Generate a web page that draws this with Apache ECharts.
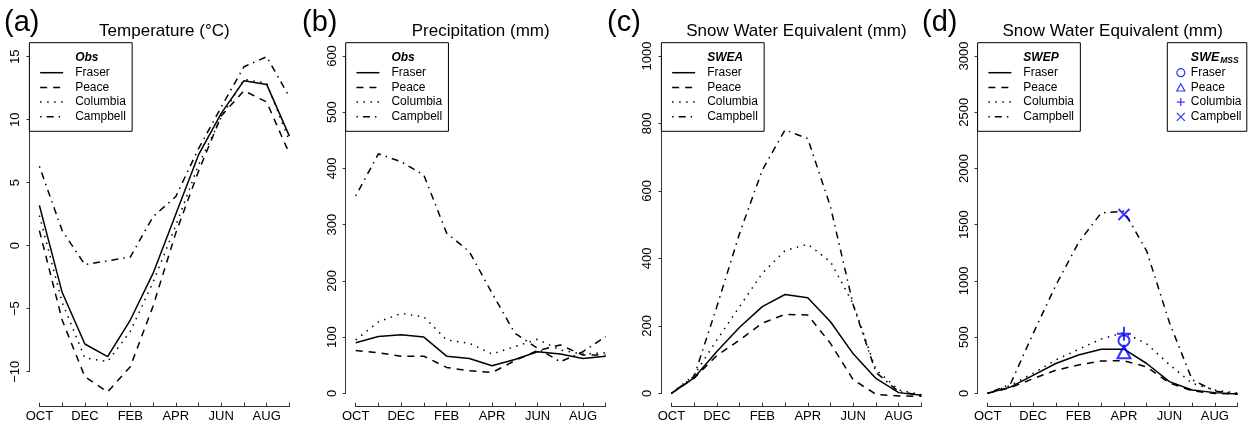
<!DOCTYPE html>
<html><head><meta charset="utf-8">
<script src="https://cdn.jsdelivr.net/npm/echarts@6/dist/echarts.min.js"></script>
<style>html,body{margin:0;padding:0;background:#fff}#c{width:1250px;height:425px}</style>
</head><body><div id="c"></div>
<script>
// ---------------- data ----------------
const months = ['OCT','NOV','DEC','JAN','FEB','MAR','APR','MAY','JUN','JUL','AUG','SEP'];
const basins = ['Fraser','Peace','Columbia','Campbell'];

// (a) Temperature (°C), observed
const tempFraser   = [3.2,-3.7,-7.8,-8.8,-5.9,-2.2,2.5,7.2,10.5,13.1,12.8,8.7];
const tempPeace    = [1.2,-5.9,-10.4,-11.6,-9.6,-4.8,1.0,5.9,10.3,12.3,11.4,7.3];
const tempColumbia = [2.4,-4.5,-8.9,-9.2,-6.8,-2.9,1.6,6.4,10.2,13.2,12.9,8.3];
const tempCampbell = [6.3,1.2,-1.5,-1.2,-0.9,2.3,3.9,7.7,11.0,14.2,15.0,11.8];

// (b) Precipitation (mm), observed
const precFraser   = [90,101,104,100,66,62,49,60,74,70,62,66];
const precPeace    = [76,72,66,66,46,40,37,58,76,86,68,68];
const precColumbia = [95,127,142,136,95,89,70,83,96,77,70,72];
const precCampbell = [351,426,412,388,285,252,178,107,80,56,74,101];

// (c) SWE (mm), SWEA
const sweaFraser   = [0,46,124,196,257,293,283,212,117,44,2,-6];
const sweaPeace    = [0,45,112,158,208,234,232,148,40,-3,-8,-9];
const sweaColumbia = [0,54,158,257,356,423,442,390,265,70,10,-4];
const sweaCampbell = [0,50,257,474,662,781,755,553,262,62,5,-6];

// (d) SWE (mm), SWEP
const swepFraser   = [0,55,160,265,340,392,392,265,104,29,6,-6];
const swepPeace    = [0,50,130,205,252,287,290,235,92,22,-2,-6];
const swepColumbia = [0,70,178,296,391,483,540,440,255,89,29,2];
const swepCampbell = [0,80,530,960,1340,1605,1620,1265,630,120,20,-5];

// (d) SWE_MSS markers (April)
const mssMonth = 'APR';
const mssFraser = 468;
const mssPeace = 365;
const mssColumbia = 530;
const mssCampbell = 1590;

// tick settings
const yTicksA = {min:-10, max:15, interval:5};
const yTicksB = {min:0, max:600, interval:100};
const yTicksC = {min:0, max:1000, interval:200};
const yTicksD = {min:0, max:3000, interval:500};

// ---------------- layout / style ----------------
const FONT = '"Liberation Sans", Arial, Helvetica, sans-serif';
const lineTypes = {Fraser:'solid', Peace:[7,6], Columbia:[1.5,5.5], Campbell:[1.5,5,7,5]};

const panels = [
  {label:'(a)', labelX:4,   title:'Temperature (°C)', head:'Obs',  vals:[tempFraser,tempPeace,tempColumbia,tempCampbell], ticks:yTicksA, left:39.4,  top:56.7, height:315,   xOff:35},
  {label:'(b)', labelX:302, title:'Precipitation (mm)', head:'Obs', vals:[precFraser,precPeace,precColumbia,precCampbell], ticks:yTicksB, left:355.7, top:56,   height:337.3, xOff:13.4},
  {label:'(c)', labelX:607, title:'Snow Water Equivalent (mm)', head:'SWEA', vals:[sweaFraser,sweaPeace,sweaColumbia,sweaCampbell], ticks:yTicksC, left:671.4, top:56, height:337.3, xOff:13.4},
  {label:'(d)', labelX:922, title:'Snow Water Equivalent (mm)', head:'SWEP', vals:[swepFraser,swepPeace,swepColumbia,swepCampbell], ticks:yTicksD, left:987.6, top:56, height:337.3, xOff:13.4}
];
const PW = 250;

const grid = [], xAxis = [], yAxis = [], series = [], legend = [], title = [];
const axisCol = '#333';

panels.forEach((p, i) => {
  grid.push({left:p.left, top:p.top, width:PW, height:p.height});
  xAxis.push({
    type:'category', gridIndex:i, data:months, boundaryGap:false, offset:p.xOff, position:'bottom',
    axisLine:{show:true, onZero:false, lineStyle:{color:axisCol, width:1}},
    axisTick:{show:true, inside:true, length:4, interval:0, lineStyle:{color:axisCol}},
    axisLabel:{interval:1, margin:3, fontSize:13, color:'#000', fontFamily:FONT},
    splitLine:{show:false}
  });
  yAxis.push({
    type:'value', gridIndex:i, min:p.ticks.min, max:p.ticks.max, interval:p.ticks.interval, offset:10,
    axisLine:{show:true, onZero:false, lineStyle:{color:axisCol, width:1}},
    axisTick:{show:true, inside:false, length:3, lineStyle:{color:axisCol}},
    axisLabel:{rotate:90, margin:7, fontSize:13, color:'#000', fontFamily:FONT,
      formatter: v => String(v).replace('-', '\u2212')},
    splitLine:{show:false}
  });
  basins.forEach((b, k) => {
    series.push({
      type:'line', name:b, xAxisIndex:i, yAxisIndex:i, data:p.vals[k],
      symbol:'none', clip:false, silent:true, animation:false,
      itemStyle:{color:'#000'},
      lineStyle:{color:'#000', width:1.5, type:lineTypes[b]}
    });
  });
  legend.push({
    orient:'vertical', left:p.left - 10, top:42.7,
    data:[{name:p.head, icon:'none', textStyle:{fontWeight:'bold', fontStyle:'italic'}}].concat(basins),
    itemWidth:23, itemHeight:14, itemGap:0.7,
    padding:[8.3,0,7.5,10], borderColor:'#000', borderWidth:1, backgroundColor:'#fff',
    selectedMode:false,
    itemStyle:{opacity:0},
    lineStyle:{width:1.5},
    textStyle:{fontSize:12, fontFamily:FONT, color:'#000', padding:[0,0,0,7], width:57, lineHeight:14}
  });
  title.push({text:p.label, left:p.labelX, top:8, padding:0,
    textStyle:{fontSize:29, fontWeight:'normal', fontFamily:FONT, color:'#000'}});
  title.push({text:p.title, left:p.left - 10 + (PW + 20) / 2, textAlign:'center', top:22.5, padding:0,
    textStyle:{fontSize:17, fontWeight:'normal', fontFamily:FONT, color:'#000'}});
});

// header dummy series for legend titles
['Obs','SWEA','SWEP','SWEMSS'].forEach(h => series.push({type:'line', name:h, data:[], xAxisIndex:0, yAxisIndex:0, symbol:'none'}));

// SWE_MSS markers
const mssSymbols = {
  Fraser:'path://M10,5A5,5,0,1,1,0,5A5,5,0,1,1,10,5Z',
  Peace:'path://M5,0L10,9L0,9Z',
  Columbia:'path://M5,0L5,10M0,5L10,5',
  Campbell:'path://M0,0L10,10M10,0L0,10'
};
const mssVals = {Fraser:mssFraser, Peace:mssPeace, Columbia:mssColumbia, Campbell:mssCampbell};
const mssSizes = {Fraser:[11,11], Peace:[13,12], Columbia:[14,14], Campbell:[11,11]};
basins.forEach(b => {
  series.push({
    type:'scatter', name:'MSS ' + b, xAxisIndex:3, yAxisIndex:3,
    data:[[mssMonth, mssVals[b]]], symbol:mssSymbols[b], symbolSize:mssSizes[b],
    clip:false, silent:true, animation:false, z:5,
    itemStyle:{color:'none', borderColor:'#0000ff', borderWidth:2}
  });
});

legend.push({
  orient:'vertical', left:1167.3, top:42.7,
  data:[{name:'SWEMSS', icon:'none'}].concat(basins.map(b => 'MSS ' + b)),
  formatter: n => n === 'SWEMSS' ? '{t|SWE}{s|MSS}' : n.replace('MSS ', ''),
  itemWidth:8, itemHeight:8, itemGap:0.7,
  padding:[8.3,0,7.5,7], borderColor:'#000', borderWidth:1, backgroundColor:'#fff',
  selectedMode:false,
  itemStyle:{borderWidth:1.2},
  textStyle:{fontSize:12, fontFamily:FONT, color:'#000', padding:[0,0,0,1], width:56, lineHeight:14,
    rich:{
      t:{fontSize:12.5, fontFamily:FONT, fontWeight:'bold', fontStyle:'italic', color:'#000'},
      s:{fontSize:8.5, fontFamily:FONT, fontWeight:'bold', fontStyle:'italic', color:'#000', verticalAlign:'bottom', padding:[5,0,0,1]}
    }}
});

const chart = echarts.init(document.getElementById('c'), null, {renderer:'canvas'});
chart.setOption({animation:false, backgroundColor:'#fff', grid, xAxis, yAxis, series, legend, title});
</script></body></html>
